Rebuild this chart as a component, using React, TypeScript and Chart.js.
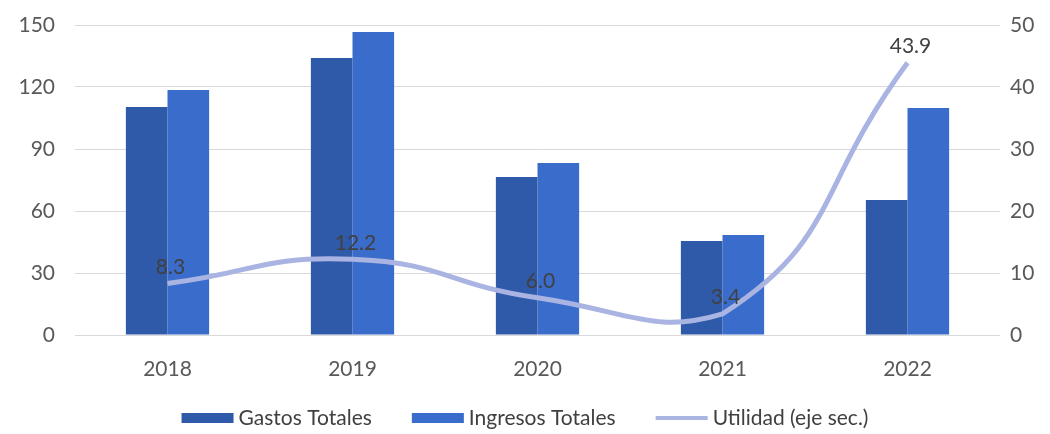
import React, { useEffect, useRef } from "react";
import { Chart, registerables } from "chart.js";

Chart.register(...registerables);

const categories = ["2018", "2019", "2020", "2021", "2022"];
const gastos = [110.3, 134.0, 76.5, 45.5, 65.3];
const ingresos = [118.5, 146.6, 83.2, 48.4, 109.8];
const utilidad = [8.3, 12.2, 6.0, 3.4, 43.9];
const utilidadLabels = ["8.3", "12.2", "6.0", "3.4", "43.9"];
const leftTicks = [0, 30, 60, 90, 120, 150];
const rightTicks = [0, 10, 20, 30, 40, 50];
const seriesNames = ["Gastos Totales", "Ingresos Totales", "Utilidad (eje sec.)"];

const FONT = "Lato, 'Open Sans', sans-serif";
const C_GASTOS = "#2E5AA9";
const C_INGRESOS = "#3A6DCB";
const C_LINE = "#A9B4E2";
const TXT = "#404040";

const labelPlugin = {
  id: "lineLabels",
  afterDatasetsDraw(chart: any) {
    const meta = chart.getDatasetMeta(2);
    const ctx = chart.ctx;
    ctx.save();
    ctx.font = `21px ${FONT}`;
    ctx.fillStyle = TXT;
    ctx.textAlign = "center";
    ctx.textBaseline = "bottom";
    meta.data.forEach((pt: any, i: number) => {
      ctx.fillText(utilidadLabels[i], pt.x + 3, pt.y - 6);
    });
    ctx.restore();
  },
};

const legendPlugin = {
  id: "customLegend",
  afterDraw(chart: any) {
    const ctx = chart.ctx;
    ctx.save();
    ctx.font = `21px ${FONT}`;
    const boxW = 52;
    const gapText = 5;
    const gapItem = 40;
    const widths = seriesNames.map((n) => boxW + gapText + ctx.measureText(n).width);
    const total = widths.reduce((a, b) => a + b, 0) + gapItem * (widths.length - 1);
    let x = (chart.width - total) / 2;
    const y = 418;
    const colors = [C_GASTOS, C_INGRESOS, C_LINE];
    seriesNames.forEach((n, i) => {
      if (i < 2) {
        ctx.fillStyle = colors[i];
        ctx.fillRect(x, y - 5, boxW, 10);
      } else {
        ctx.strokeStyle = colors[i];
        ctx.lineWidth = 4;
        ctx.beginPath();
        ctx.moveTo(x, y);
        ctx.lineTo(x + boxW, y);
        ctx.stroke();
      }
      ctx.fillStyle = TXT;
      ctx.textAlign = "left";
      ctx.textBaseline = "middle";
      ctx.fillText(n, x + boxW + gapText, y);
      x += widths[i] + gapItem;
    });
    ctx.restore();
  },
};

export default function App() {
  const ref = useRef<HTMLCanvasElement>(null);
  useEffect(() => {
    if (!ref.current) return;
    const chart = new Chart(ref.current, {
      type: "bar",
      data: {
        labels: categories,
        datasets: [
          {
            type: "bar",
            label: seriesNames[0],
            data: gastos,
            backgroundColor: C_GASTOS,
            borderWidth: 0,
            yAxisID: "y",
            order: 2,
            barPercentage: 1,
            categoryPercentage: 0.45,
          },
          {
            type: "bar",
            label: seriesNames[1],
            data: ingresos,
            backgroundColor: C_INGRESOS,
            borderWidth: 0,
            yAxisID: "y",
            order: 2,
            barPercentage: 1,
            categoryPercentage: 0.45,
          },
          {
            type: "line",
            label: seriesNames[2],
            data: utilidad,
            borderColor: C_LINE,
            backgroundColor: C_LINE,
            borderWidth: 5,
            pointRadius: 0,
            tension: 0.5,
            yAxisID: "y1",
            order: 0,
          } as any,
        ],
      },
      options: {
        animation: false,
        responsive: false,
        layout: { padding: { top: 25, bottom: 44, left: 0, right: 0 } },
        plugins: {
          legend: { display: false },
          tooltip: { enabled: false },
        },
        scales: {
          x: {
            grid: { display: false },
            border: { display: false },
            ticks: { color: "#595959", font: { family: FONT, size: 21 }, padding: 14 },
            afterFit(scale: any) {
              scale.height = 55;
              scale.paddingLeft = 0;
              scale.paddingRight = 0;
            },
          },
          y: {
            position: "left",
            min: 0,
            max: 150,
            afterBuildTicks(scale: any) {
              scale.ticks = leftTicks.map((v) => ({ value: v }));
            },
            grid: { color: "#D9D9D9", lineWidth: 1, drawTicks: false },
            border: { display: false },
            ticks: { color: "#595959", font: { family: FONT, size: 21 }, padding: 20 },
            afterFit(scale: any) {
              scale.width = 75;
              scale.paddingTop = 0;
              scale.paddingBottom = 0;
            },
          },
          y1: {
            position: "right",
            min: 0,
            max: 50,
            afterBuildTicks(scale: any) {
              scale.ticks = rightTicks.map((v) => ({ value: v }));
            },
            grid: { display: false, drawTicks: false },
            border: { display: false },
            ticks: { color: "#595959", font: { family: FONT, size: 21 }, padding: 10 },
            afterFit(scale: any) {
              scale.width = 50;
              scale.paddingTop = 0;
              scale.paddingBottom = 0;
            },
          },
        },
      },
      plugins: [labelPlugin, legendPlugin],
    });
    return () => chart.destroy();
  }, []);
  return (
    <div style={{ position: "absolute", left: 0, top: 0, width: 1050, height: 434, background: "#fff" }}>
      <canvas ref={ref} width={1050} height={434} />
    </div>
  );
}
